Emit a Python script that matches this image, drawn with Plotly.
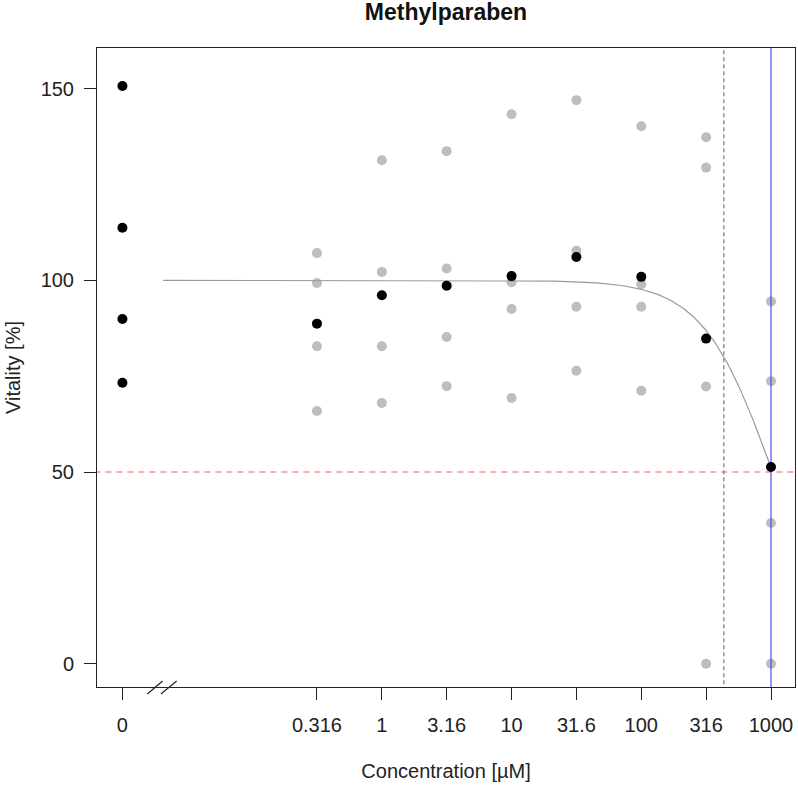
import numpy as np
import plotly.graph_objects as go

# Concentrations (µM); the untreated control is placed at 0.01 on the log axis
control_pos = 0.01
conc = [0.316, 1, 3.16, 10, 31.6, 100, 316, 1000]
tick_vals = [control_pos] + conc
tick_text = ["0", "0.316", "1", "3.16", "10", "31.6", "100", "316", "1000"]

# Control replicates (%)
control_vals = [150.7, 113.7, 89.9, 73.3]

# Replicate vitality values (%) per concentration
rep1 = [107.1, 131.3, 133.7, 143.3, 147.0, 140.2, 137.3, 94.5]
rep2 = [99.3, 102.2, 103.1, 99.5, 107.7, 99.0, 129.4, 73.7]
rep3 = [82.8, 82.8, 85.2, 92.5, 93.1, 93.1, 72.3, 36.7]
rep4 = [65.9, 68.0, 72.4, 69.3, 76.4, 71.2, 0.0, 0.0]

# Mean vitality per concentration (%)
means = [88.7, 96.1, 98.6, 101.1, 106.1, 100.9, 84.8, 51.3]

# Log-logistic fit parameters
fit_top = 100.0
fit_bottom = 0.0
fit_ec50 = 1030.0
fit_slope = 1.6
fit_start = 0.0206
ec20 = 433.0
ec50_line = 1000.0
half_effect = 50.0

FONT = "Liberation Sans, Arial, sans-serif"

fig = go.Figure()

# replicates in grey
rep_x = conc * 4
rep_y = rep1 + rep2 + rep3 + rep4
fig.add_trace(go.Scatter(
    x=rep_x, y=rep_y, mode="markers",
    marker=dict(color="#bebebe", size=10, line=dict(width=0)),
    showlegend=False, hoverinfo="x+y"))

# fitted curve
xc = np.logspace(np.log10(fit_start), np.log10(max(conc)), 400)
yc = fit_bottom + (fit_top - fit_bottom) / (1 + (xc / fit_ec50) ** fit_slope)
fig.add_trace(go.Scatter(
    x=xc, y=yc, mode="lines",
    line=dict(color="#9a9a9a", width=1.2),
    showlegend=False, hoverinfo="skip"))

# reference lines
fig.add_trace(go.Scatter(
    x=[0.005, 2000], y=[half_effect, half_effect], mode="lines",
    line=dict(color="rgba(255,60,60,0.85)", width=1.2, dash="6px,5px"),
    showlegend=False, hoverinfo="skip"))
fig.add_trace(go.Scatter(
    x=[ec20, ec20], y=[-20, 200], mode="lines",
    line=dict(color="#777777", width=1.2, dash="4px,3px"),
    showlegend=False, hoverinfo="skip"))
fig.add_trace(go.Scatter(
    x=[ec50_line, ec50_line], y=[-20, 200], mode="lines",
    line=dict(color="rgba(60,60,255,0.85)", width=1.3),
    showlegend=False, hoverinfo="skip"))

# control and mean points in black
fig.add_trace(go.Scatter(
    x=[control_pos] * len(control_vals), y=control_vals, mode="markers",
    marker=dict(color="black", size=10, line=dict(width=0)),
    showlegend=False))
fig.add_trace(go.Scatter(
    x=conc, y=means, mode="markers",
    marker=dict(color="black", size=10, line=dict(width=0)),
    showlegend=False))

# axis break marks on the x axis
break_marks = [(0.01556, 0.0204), (0.0198, 0.0262)]
for xa, xb in break_marks:
    fig.add_shape(type="line", xref="x", yref="paper",
                  x0=xa, x1=xb, y0=-0.011, y1=0.0095,
                  line=dict(color="#222222", width=1.2))

fig.update_layout(
    width=798, height=787,
    margin=dict(l=97, r=3, t=48, b=100),
    paper_bgcolor="white", plot_bgcolor="white",
    font=dict(family=FONT, size=20, color="#222222"),
    title=dict(text="<b>Methylparaben</b>", x=(97 + 795) / 2 / 798, xanchor="center",
               y=1 - 12 / 787, yanchor="middle", yref="container",
               font=dict(family=FONT, size=23, color="#111111")),
)

fig.update_xaxes(
    type="log", range=[-2.196, 3.185],
    tickmode="array", tickvals=tick_vals, ticktext=tick_text,
    ticks="outside", ticklen=12, tickwidth=1, tickcolor="#222222",
    showline=True, linecolor="#222222", linewidth=1, mirror=True,
    showgrid=False, zeroline=False,
    tickfont=dict(size=20, family=FONT, color="#222222"),
    ticklabelstandoff=8,
    title=dict(text="Concentration [µM]", standoff=28,
               font=dict(size=20, family=FONT, color="#222222")),
    automargin=False,
)
fig.update_yaxes(
    range=[-6.08, 160.6],
    tickmode="array", tickvals=[0, 50, 100, 150],
    ticks="outside", ticklen=12, tickwidth=1, tickcolor="#222222",
    showline=True, linecolor="#222222", linewidth=1, mirror=True,
    showgrid=False, zeroline=False,
    tickfont=dict(size=20, family=FONT, color="#222222"),
    ticklabelstandoff=6,
    title=dict(text="Vitality [%]", standoff=14,
               font=dict(size=20, family=FONT, color="#222222")),
    automargin=False,
)

fig.write_html("out.html")
